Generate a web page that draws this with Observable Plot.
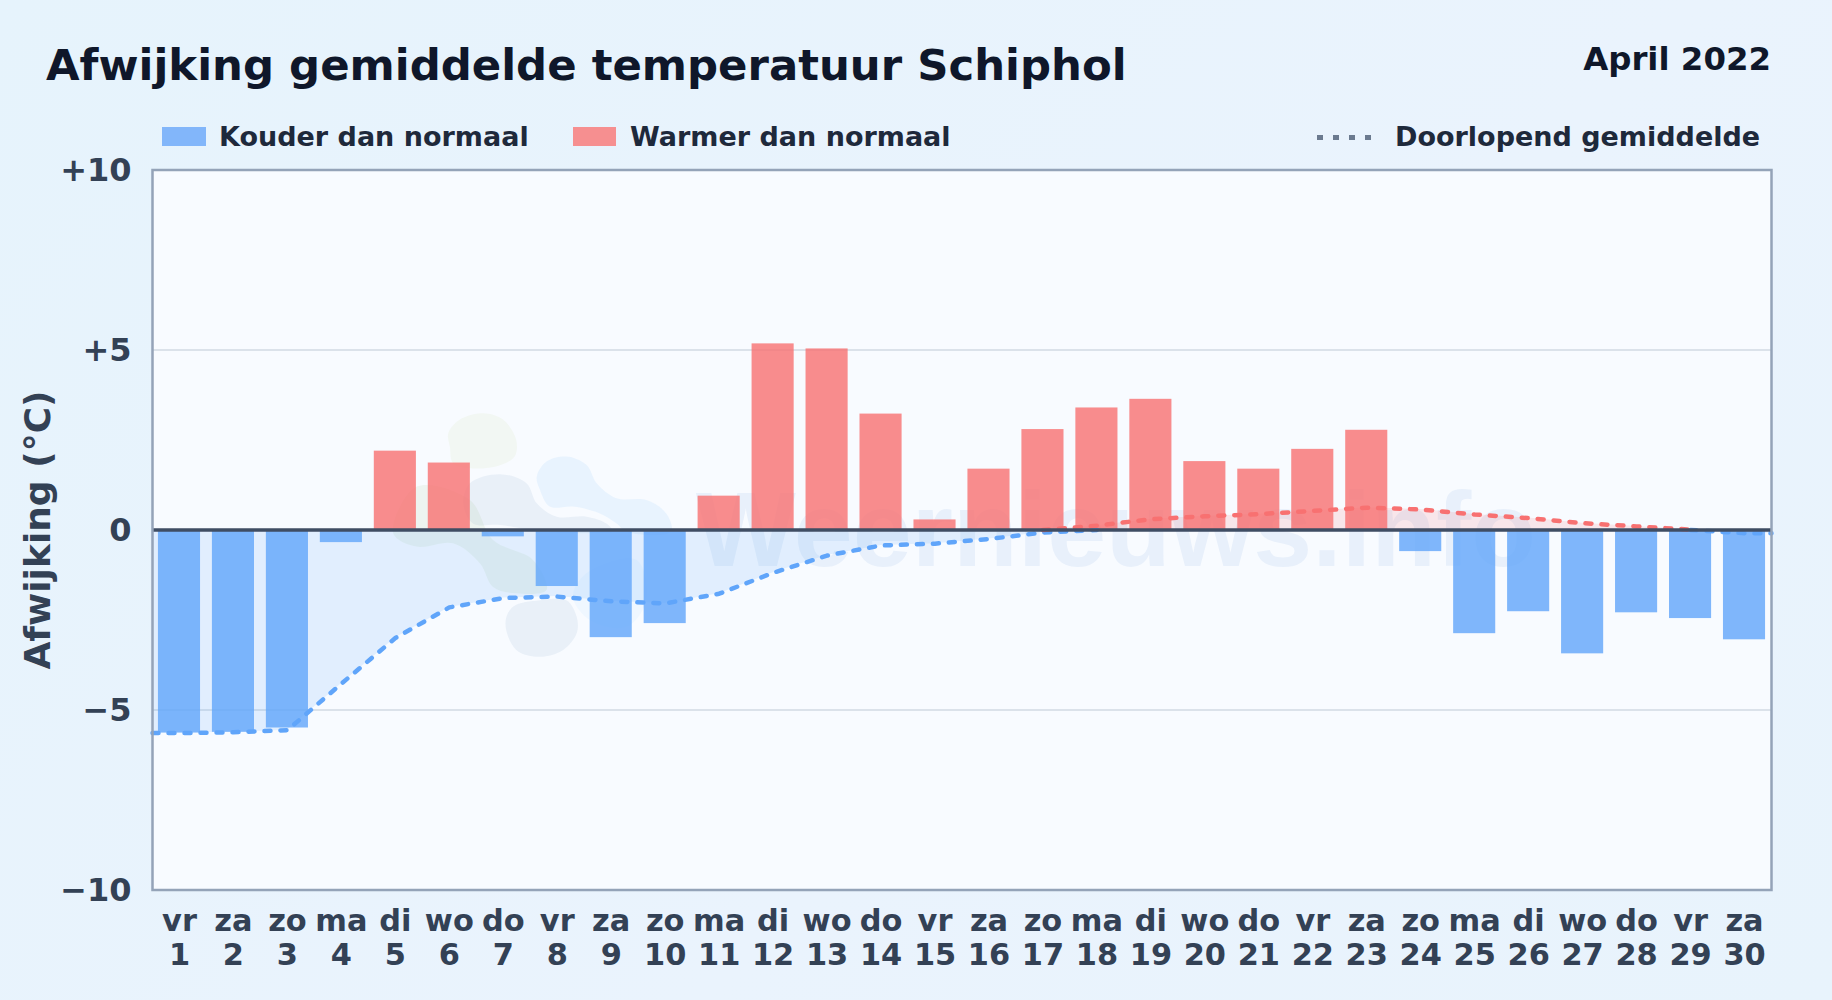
<!DOCTYPE html>
<html><head><meta charset="utf-8">
<script src="https://cdn.jsdelivr.net/npm/d3@7"></script>
<script src="https://cdn.jsdelivr.net/npm/@observablehq/plot@0.6"></script>
<style>
html,body{margin:0;padding:0}
body{width:1832px;height:1000px;overflow:hidden;position:relative;background:linear-gradient(135deg,#e6f3fc,#eaf3fd 60%,#e8f3fc);font-family:"DejaVu Sans",sans-serif;font-weight:700}
.t{position:absolute;white-space:nowrap;line-height:1}
.sw{position:absolute;top:127px;height:19px}
#chart{position:absolute;left:0;top:150px}
</style></head><body>
<div class="t" style="left:46px;top:44px;font-size:43.4px;color:#0f172a">Afwijking gemiddelde temperatuur Schiphol</div>
<div class="t" style="right:61px;top:43px;font-size:32.4px;color:#0f172a">April 2022</div>
<div class="sw" style="left:162px;width:44px;background:#82b6fa"></div>
<div class="t" style="left:219px;top:123px;font-size:27px;color:#1e293b">Kouder dan normaal</div>
<div class="sw" style="left:573px;width:43px;background:#f68f90"></div>
<div class="t" style="left:630px;top:123px;font-size:27px;color:#1e293b">Warmer dan normaal</div>
<div class="t" style="left:1317px;top:135px;width:54px;height:4.5px;background:repeating-linear-gradient(90deg,#6b7a8f 0 6px,transparent 6px 16px)"></div>
<div class="t" style="left:1395px;top:123px;font-size:27px;color:#1e293b">Doorlopend gemiddelde</div>
<div id="chart"></div>
<script>
const days = d3.range(1, 31);
const weekdays = ["vr","za","zo","ma","di","wo","do","vr","za","zo","ma","di","wo","do","vr","za","zo","ma","di","wo","do","vr","za","zo","ma","di","wo","do","vr","za"];
const anomaly = [-5.64,-5.62,-5.5,-0.35,2.19,1.86,-0.19,-1.57,-2.99,-2.6,0.94,5.17,5.03,3.22,0.28,1.69,2.79,3.39,3.63,1.9,1.69,2.24,2.77,-0.6,-2.88,-2.27,-3.44,-2.3,-2.46,-3.05];
const meanDays = [0.5,1,2,3,4,5,6,7,8,9,10,11,12,13,14,15,16,17,18,19,20,21,22,23,24,25,26,27,28,29,30,30.5];
const meanValues = [-5.64,-5.64,-5.62,-5.56,-4.27,-3.0,-2.15,-1.89,-1.85,-1.98,-2.04,-1.77,-1.19,-0.71,-0.43,-0.38,-0.25,-0.07,0.12,0.3,0.38,0.44,0.53,0.62,0.57,0.43,0.33,0.19,0.1,0.01,-0.09,-0.09];
const yTicks = [-10,-5,0,5,10];
const yTickLabels = ["−10","−5","0","+5","+10"];
const gridValues = [-5,5];
const barHalfWidth = 0.39;
const blobYellow = [[5.98,2.68],[6.19,3.06],[6.63,3.24],[7.0,3.06],[7.24,2.5],[7.21,2.04],[6.94,1.8],[6.44,1.71],[6.07,1.85],[6.01,2.31]];
const blobGreen = [[4.96,-0.09],[5.39,1.2],[6.38,0.83],[6.81,-0.28],[7.55,-0.83],[7.8,-1.67],[7.24,-1.76],[6.81,-1.58],[6.57,-0.93],[6.07,-0.37],[5.39,-0.46]];
const blobGray = [[6.38,1.3],[6.94,1.55],[7.43,1.3],[7.62,0.74],[7.99,0.37],[8.54,0.37],[8.91,0.18],[9.03,-0.05],[8.66,-0.09],[7.74,-0.05],[6.94,0.14],[6.44,0.18],[6.26,0.74]];
const blobBlue = [[7.62,1.48],[7.8,1.9],[8.17,2.04],[8.54,1.81],[8.73,1.3],[9.1,0.88],[9.65,0.83],[10.02,0.46],[10.11,-0.05],[9.28,-0.05],[9.1,0.18],[8.79,0.46],[8.29,0.65],[7.86,0.65],[7.68,1.11]];
const blobPale = [[8.29,-1.85],[8.54,-1.2],[9.47,-0.83],[9.65,-1.95],[9.28,-2.69],[8.6,-2.5]];
const blobBottom = [[7.04,-2.59],[7.18,-2.13],[7.68,-1.95],[8.17,-1.95],[8.36,-2.41],[8.36,-2.87],[8.11,-3.33],[7.68,-3.52],[7.24,-3.33]];

const bars = days.map((d,i)=>({d,v:anomaly[i]}));
const mean = meanDays.map((d,i)=>({d,v:meanValues[i],neg:Math.min(meanValues[i],0),pos:Math.max(meanValues[i],0)}));
const blob = (pts,fill,fillOpacity)=>Plot.line(pts,{x:"0",y:"1",curve:"catmull-rom-closed",fill,fillOpacity,stroke:"none"});
const blue="#60a5fa", red="#f87171";

const plot = Plot.plot({
  width:1832,height:850,
  marginLeft:152,marginRight:61,marginTop:19.5,marginBottom:110.5,
  style:{background:"transparent",fontFamily:'"DejaVu Sans",sans-serif',fontWeight:700,overflow:"visible"},
  x:{type:"linear",domain:[0.5,30.5]},
  y:{domain:[-10,10]},
  marks:[
    Plot.frame({fill:"#f8fbff",stroke:"none",fillOpacity:1}),
    Plot.ruleY(gridValues,{stroke:"#dbe2ea",strokeWidth:2}),
    blob(blobYellow,"#a3c95a",0.07),
    blob(blobGreen,"#9cc27a",0.11),
    blob(blobGray,"#5b86b0",0.09),
    blob(blobBlue,"#60b5fa",0.1),
    blob(blobPale,"#60b5fa",0.06),
    blob(blobBottom,"#5b86b0",0.09),
    Plot.text(["Weernieuws.info"],{x:[18.35],y:[-1],textAnchor:"middle",lineAnchor:"bottom",fontSize:106,fontFamily:"Liberation Sans",fontWeight:700,fill:"#4a86d8",fillOpacity:0.09}),
    Plot.areaY(mean,{x:"d",y1:0,y2:"neg",curve:"linear",fill:blue,fillOpacity:0.15}),
    Plot.areaY(mean,{x:"d",y1:0,y2:"pos",curve:"linear",fill:red,fillOpacity:0.15}),
    Plot.rectY(bars,{x1:d=>d.d-barHalfWidth,x2:d=>d.d+barHalfWidth,y1:0,y2:"v",fill:d=>d.v<0?blue:red,fillOpacity:0.8}),
    Plot.line(mean.filter(m=>m.d<=18||m.d>=29),{x:"d",y:"neg",z:m=>m.d>=29,curve:"linear",stroke:blue,strokeWidth:4.5,strokeDasharray:"6,10",strokeLinecap:"round"}),
    Plot.line(mean.filter(m=>m.d>=17&&m.d<=29),{x:"d",y:"pos",curve:"linear",stroke:red,strokeWidth:4.5,strokeDasharray:"6,10",strokeLinecap:"round"}),
    Plot.ruleY([0],{stroke:"#3f4d63",strokeWidth:3.6}),
    Plot.frame({stroke:"#94a3b8",strokeWidth:2.5,fill:"none"}),
    Plot.axisY({ticks:yTicks,tickSize:0,tickPadding:21,dy:1,tickFormat:v=>yTickLabels[yTicks.indexOf(v)],fontSize:32,fill:"#334155",label:null}),
    Plot.axisX({ticks:days,tickSize:0,tickPadding:17,tickFormat:d=>`${weekdays[d-1]}\n${d}`,fontSize:30.4,lineHeight:1.12,lineAnchor:"top",fill:"#334155",label:null}),
    Plot.text(["Afwijking (°C)"],{frameAnchor:"left",rotate:-90,dx:-114,textAnchor:"middle",fontSize:36,fill:"#334155"})
  ]
});
document.getElementById("chart").appendChild(plot);
</script>
</body></html>
